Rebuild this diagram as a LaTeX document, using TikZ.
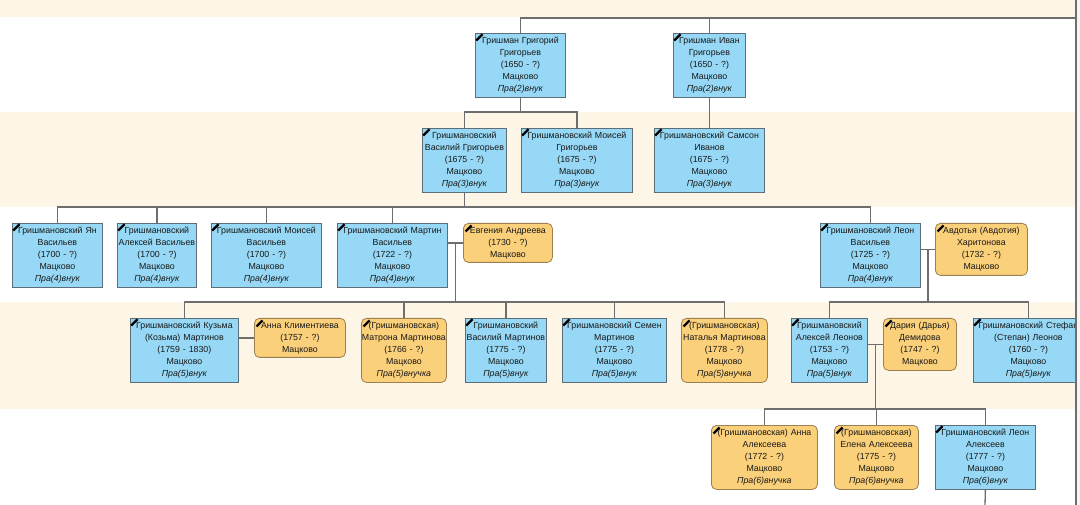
\documentclass[tikz,border=0pt]{standalone}
\usepackage{fontspec}
\setmainfont{Liberation Sans}
\definecolor{creamC}{HTML}{FDF5E6}
\definecolor{maleC}{HTML}{96D8F5}
\definecolor{femaleC}{HTML}{FBD07A}
\definecolor{mborderC}{HTML}{5E6E78}
\definecolor{fborderC}{HTML}{9C8052}
\definecolor{linkC}{HTML}{6E6E6E}
\tikzset{
  person/.style={anchor=north west, inner sep=0pt, align=center,
    font=\fontsize{8.8}{12}\selectfont, text=black!90, line width=0.8pt},
  maleBox/.style={person, draw=mborderC, fill=maleC},
  femaleBox/.style={person, draw=fborderC, fill=femaleC, rounded corners=5pt},
  link/.style={draw=linkC, line width=1.3pt},
  mourn/.style={line width=2.2pt, black}
}
\begin{document}
\begin{tikzpicture}[x=1pt,y=-1pt]
\clip (0,0) rectangle (1080,505);
\useasboundingbox (0,0) rectangle (1080,505);
% bands
\fill[white] (0,0) rectangle (1080,505);
\fill[creamC] (0,0) rectangle (1080,17);
\fill[creamC] (0,112) rectangle (1080,207);
\fill[creamC] (0,302) rectangle (1080,409);

% generation 2
\node[maleBox, text width=90pt, minimum height=64pt] (grig) at (475,33)
  {Гришман Григорий\\Григорьев\\(1650 - ?)\\Мацково\\\textit{Пра(2)внук}};
\node[maleBox, text width=72pt, minimum height=64pt] (ivan) at (673,33)
  {Гришман Иван\\Григорьев\\(1650 - ?)\\Мацково\\\textit{Пра(2)внук}};

% generation 3
\node[maleBox, text width=84pt, minimum height=64pt] (vasG) at (422,128)
  {Гришмановский\\Василий Григорьев\\(1675 - ?)\\Мацково\\\textit{Пра(3)внук}};
\node[maleBox, text width=111pt, minimum height=64pt] (moisG) at (521,128)
  {Гришмановский Моисей\\Григорьев\\(1675 - ?)\\Мацково\\\textit{Пра(3)внук}};
\node[maleBox, text width=110pt, minimum height=64pt] (samson) at (654,128)
  {Гришмановский Самсон\\Иванов\\(1675 - ?)\\Мацково\\\textit{Пра(3)внук}};

% generation 4
\node[maleBox, text width=90pt, minimum height=64pt] (yan) at (12,223)
  {Гришмановский Ян\\Васильев\\(1700 - ?)\\Мацково\\\textit{Пра(4)внук}};
\node[maleBox, text width=79pt, minimum height=64pt] (alexV) at (117,223)
  {Гришмановский\\Алексей Васильев\\(1700 - ?)\\Мацково\\\textit{Пра(4)внук}};
\node[maleBox, text width=110pt, minimum height=64pt] (moisV) at (211,223)
  {Гришмановский Моисей\\Васильев\\(1700 - ?)\\Мацково\\\textit{Пра(4)внук}};
\node[maleBox, text width=110pt, minimum height=64pt] (martin) at (337,223)
  {Гришмановский Мартин\\Васильев\\(1722 - ?)\\Мацково\\\textit{Пра(4)внук}};
\node[femaleBox, text width=89pt, minimum height=39pt] (evg) at (463,223)
  {Евгения Андреева\\(1730 - ?)\\Мацково};
\node[maleBox, text width=100pt, minimum height=64pt] (leonV) at (820,223)
  {Гришмановский Леон\\Васильев\\(1725 - ?)\\Мацково\\\textit{Пра(4)внук}};
\node[femaleBox, text width=92pt, minimum height=52pt] (avd) at (935,223)
  {Авдотья (Авдотия)\\Харитонова\\(1732 - ?)\\Мацково};

% generation 5
\node[maleBox, text width=108pt, minimum height=64pt] (kuzma) at (130,318)
  {Гришмановский Кузьма\\(Козьма) Мартинов\\(1759 - 1830)\\Мацково\\\textit{Пра(5)внук}};
\node[femaleBox, text width=91pt, minimum height=39pt] (annaK) at (254,318)
  {Анна Климентиева\\(1757 - ?)\\Мацково};
\node[femaleBox, text width=85pt, minimum height=64pt] (matrona) at (361,318)
  {(Гришмановская)\\Матрона Мартинова\\(1766 - ?)\\Мацково\\\textit{Пра(5)внучка}};
\node[maleBox, text width=81pt, minimum height=64pt] (vasM) at (465,318)
  {Гришмановский\\Василий Мартинов\\(1775 - ?)\\Мацково\\\textit{Пра(5)внук}};
\node[maleBox, text width=104pt, minimum height=64pt] (semen) at (562,318)
  {Гришмановский Семен\\Мартинов\\(1775 - ?)\\Мацково\\\textit{Пра(5)внук}};
\node[femaleBox, text width=86pt, minimum height=64pt] (natalia) at (681,318)
  {(Гришмановская)\\Наталья Мартинова\\(1778 - ?)\\Мацково\\\textit{Пра(5)внучка}};
\node[maleBox, text width=76pt, minimum height=64pt] (alexL) at (791,318)
  {Гришмановский\\Алексей Леонов\\(1753 - ?)\\Мацково\\\textit{Пра(5)внук}};
\node[femaleBox, text width=73pt, minimum height=52pt] (daria) at (883,318)
  {Дария (Дарья)\\Демидова\\(1747 - ?)\\Мацково};
\node[maleBox, text width=110pt, minimum height=64pt] (stefan) at (973,318)
  {Гришмановский Стефан\\(Степан) Леонов\\(1760 - ?)\\Мацково\\\textit{Пра(5)внук}};

% generation 6
\node[femaleBox, text width=106pt, minimum height=64pt] (annaA) at (711,425)
  {(Гришмановская) Анна\\Алексеева\\(1772 - ?)\\Мацково\\\textit{Пра(6)внучка}};
\node[femaleBox, text width=84pt, minimum height=64pt] (elena) at (834,425)
  {(Гришмановская)\\Елена Алексеева\\(1775 - ?)\\Мацково\\\textit{Пра(6)внучка}};
\node[maleBox, text width=100pt, minimum height=64pt] (leonA) at (935,425)
  {Гришмановский Леон\\Алексеев\\(1777 - ?)\\Мацково\\\textit{Пра(6)внук}};

% bus levels and free ends
\coordinate (topR) at (1076,18);
\coordinate (busA) at (0,112);
\coordinate (busB) at (0,207);
\coordinate (busC) at (0,302);
\coordinate (busD) at (0,409);
\coordinate (botL) at (985,505);

\begin{scope}[on background layer/.style={}]
\end{scope}

% connectors
\draw[link] (grig.north) |- (topR);
\draw[link] (ivan.north) -- (ivan.north |- topR);
\draw[link] (grig.south) -- (grig.south |- busA);
\draw[link] (vasG.north) |- (moisG.north |- busA) -- (moisG.north);
\draw[link] (ivan.south) -- (samson.north);

\draw[link] (vasG.south) -- (vasG.south |- busB);
\draw[link] (yan.north) |- (leonV.north |- busB) -- (leonV.north);
\draw[link] (alexV.north) -- (alexV.north |- busB);
\draw[link] (moisV.north) -- (moisV.north |- busB);
\draw[link] (martin.north) -- (martin.north |- busB);

\draw[link] (evg.west) -- coordinate (mM) (evg.west -| martin.east);
\draw[link] (mM) -- (mM |- busC);
\draw[link] (kuzma.north) |- (natalia.north |- busC) -- (natalia.north);
\draw[link] (matrona.north) -- (matrona.north |- busC);
\draw[link] (vasM.north) -- (vasM.north |- busC);
\draw[link] (semen.north) -- (semen.north |- busC);

\draw[link] (avd.west) -- coordinate (mL) (avd.west -| leonV.east);
\draw[link] (mL) -- (mL |- busC);
\draw[link] (alexL.north) |- (stefan.north |- busC) -- (stefan.north);

\draw[link] (annaK.west) -- (annaK.west -| kuzma.east);

\draw[link] (daria.west) -- coordinate (mA) (daria.west -| alexL.east);
\draw[link] (mA) -- (mA |- busD);
\draw[link] (annaA.north) |- (leonA.north |- busD) -- (leonA.north);
\draw[link] (elena.north) -- (elena.north |- busD);
\draw[link] (leonA.south) -- (botL);

% mourning marks
\foreach \n in {grig,ivan,vasG,moisG,samson,yan,alexV,moisV,martin,leonV,kuzma,vasM,semen,alexL,stefan,leonA}
  \draw[mourn] ([shift={(1.2,7.5)}]\n.north west) -- ([shift={(7.5,1.2)}]\n.north west);
\foreach \n in {evg,avd,annaK,matrona,natalia,daria,annaA,elena}
  \draw[mourn] ([shift={(2.5,8.5)}]\n.north west) -- ([shift={(8.5,2.5)}]\n.north west);

% right edge strip
\fill[white!96!black] (1076.5,0) rectangle (1080,505);
\draw[linkC, line width=1.2pt] (1076,0) -- (1076,505);
\end{tikzpicture}
\end{document}
